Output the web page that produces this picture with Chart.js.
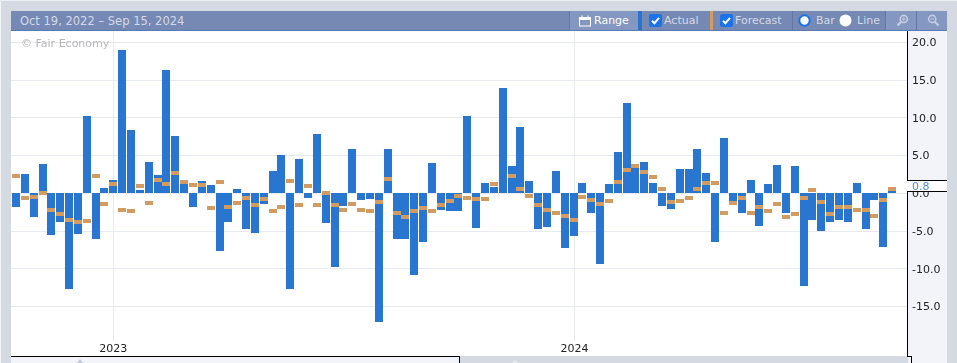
<!DOCTYPE html>
<html>
<head>
<meta charset="utf-8">
<title>Fair Economy chart</title>
<script src="https://cdn.jsdelivr.net/npm/chart.js@4"></script>
<style>
html,body{margin:0;padding:0;width:957px;height:363px;overflow:hidden;background:#d5d9e2;font-family:"DejaVu Sans",sans-serif;}
.abs{position:absolute;}
#edgeL{left:0;top:0;width:1px;height:363px;background:#f3f4f8;}
#edgeT{left:0;top:0;width:957px;height:1px;background:#eceef3;}
#bar{left:11px;top:11px;width:936px;height:19px;background:#7689b4;border-bottom:1px solid #5b78b6;}
#plot{left:11px;top:31px;width:896px;height:325px;background:#fff;}
#panel{left:908px;top:31px;width:39px;height:332px;background:#f3f4f9;}
#foot{left:11px;top:357px;width:448px;height:6px;background:#f3f4f9;}
#blackV{left:907px;top:31px;width:1px;height:325px;background:#000;}
#blackH{left:11px;top:356px;width:449px;height:1px;background:#000;}
#blackV2{left:459px;top:356px;width:1px;height:7px;background:#000;}
#blackH2{left:907px;top:356px;width:5px;height:1px;background:#000;}
#blackV3{left:911px;top:356px;width:1px;height:7px;background:#000;}
canvas#c{position:absolute;left:11px;top:31px;}
.t{position:absolute;top:11px;height:19px;line-height:20px;font-size:11px;white-space:nowrap;color:#d3d9e7;}
.seg{position:absolute;top:11px;height:19px;}
.tri{position:absolute;width:0;height:0;border-left:4px solid transparent;border-right:4px solid transparent;}
svg{position:absolute;}
#wm{left:21px;top:37px;font-size:11px;color:#b8b8b8;line-height:14px;white-space:nowrap;}
</style>
</head>
<body>
<div class="abs" id="edgeL"></div><div class="abs" id="edgeT"></div>
<div class="abs" id="bar"></div>
<div class="abs" id="plot"></div>
<div class="abs" id="panel"></div>
<div class="abs" id="foot"></div>
<div class="abs" id="blackV"></div>
<div class="abs" id="blackH"></div>
<div class="abs" id="blackV2"></div>
<div class="abs" id="blackH2"></div>
<div class="abs" id="blackV3"></div>
<div class="tri" style="left:76px;top:359px;border-bottom:5px solid #c9cdd8;"></div>
<div class="tri" style="left:511px;top:360px;border-bottom:4px solid #e6e8ee;"></div>

<div class="t" id="range" style="left:20px;font-size:11.5px;">Oct 19, 2022 – Sep 15, 2024</div>

<div class="seg" style="left:569px;width:1px;background:#6278a8;"></div>
<div class="seg" style="left:570px;width:68px;background:#8497c0;"></div>
<svg style="left:579px;top:15px" width="13" height="12" viewBox="0 0 13 12"><rect x="0.5" y="2.5" width="11" height="8.5" fill="none" stroke="#fff"/><rect x="0.5" y="2.5" width="11" height="2.5" fill="#fff"/><rect x="2.5" y="0.5" width="1" height="3" fill="#fff"/><rect x="8.5" y="0.5" width="1" height="3" fill="#fff"/></svg>
<div class="t" style="left:594px;color:#fff;">Range</div>
<div class="seg" style="left:638px;width:4px;background:#2874cf;"></div>
<svg style="left:649px;top:14px" width="13" height="13" viewBox="0 0 13 13"><rect width="13" height="13" rx="2" fill="#1a73e8"/><path d="M3 6.8 L5.4 9.2 L10 3.8" fill="none" stroke="#fff" stroke-width="2"/></svg>
<div class="t" style="left:664px;">Actual</div>
<div class="seg" style="left:710px;width:3px;background:#d39b5f;"></div>
<svg style="left:720px;top:14px" width="13" height="13" viewBox="0 0 13 13"><rect width="13" height="13" rx="2" fill="#1a73e8"/><path d="M3 6.8 L5.4 9.2 L10 3.8" fill="none" stroke="#fff" stroke-width="2"/></svg>
<div class="t" style="left:735px;">Forecast</div>
<div class="seg" style="left:792px;width:1px;background:#6278a8;"></div>
<svg style="left:798px;top:14px" width="13" height="13" viewBox="0 0 13 13"><circle cx="6.5" cy="6.5" r="5.2" fill="#fff" stroke="#1a73e8" stroke-width="2"/></svg>
<div class="t" style="left:816px;">Bar</div>
<svg style="left:839px;top:14px" width="13" height="13" viewBox="0 0 13 13"><circle cx="6.5" cy="6.5" r="6" fill="#fff"/></svg>
<div class="t" style="left:857px;">Line</div>
<div class="seg" style="left:885px;width:1px;background:#6278a8;"></div>
<div class="seg" style="left:886px;width:30px;background:#8497c0;"></div>
<div class="seg" style="left:916px;width:1px;background:#6278a8;"></div>
<div class="seg" style="left:917px;width:30px;background:#8497c0;"></div>
<svg style="left:896px;top:14px" width="13" height="13" viewBox="0 0 13 13"><circle cx="7.8" cy="5" r="3.6" fill="none" stroke="#c4cde0" stroke-width="1.6"/><path d="M5.2 7.8 L1.5 11.5" stroke="#c4cde0" stroke-width="2.2"/><path d="M6 5H9.6M7.8 3.2V6.8" stroke="#c4cde0"/></svg>
<svg style="left:927px;top:14px" width="13" height="13" viewBox="0 0 13 13"><circle cx="5.2" cy="5" r="3.6" fill="none" stroke="#c4cde0" stroke-width="1.6"/><path d="M7.8 7.8 L11.5 11.5" stroke="#c4cde0" stroke-width="2.2"/><path d="M3.4 5H7" stroke="#c4cde0"/></svg>

<canvas id="c" width="936" height="325"></canvas>
<div class="abs" id="wm">© Fair Economy</div>

<script>
const actual = [
 -1.8, 2.6,-3.2, 3.9,-5.5,-3.8,-12.7,-5.4,10.3,-6.0,
  0.7, 1.8,19.0, 8.4, 0.5, 4.1, 2.4,16.3, 7.6, 1.3,
 -1.8, 1.6, 1.1,-7.6,-3.8, 0.6,-4.7,-5.2,-1.4, 3.0,
  5.1,-12.6,4.5,-0.6, 7.9,-3.9,-9.7,-1.7, 5.9,-0.9,
 -0.7,-17.1,5.9,-6.1,-6.1,-10.8,-6.4,4.0,-2.2,-2.3,
 -2.3,10.3,-4.6, 1.4, 0.9,13.9, 3.6, 8.8, 1.6,-4.7,
 -4.4, 3.0,-7.2,-5.6, 1.4,-2.6,-9.3, 1.3, 5.5,11.9,
  3.4, 4.2, 1.4,-1.7,-2.1, 3.2, 3.2, 5.9, 2.7,-6.5,
  7.3,-1.0,-2.6, 1.8,-4.3, 1.3, 3.7,-2.6, 3.6,-12.3,
 -3.5,-5.0,-3.8,-3.5,-3.8, 1.4,-4.7,-0.9,-7.1, 0.8
];
const forecast = [
  2.3,-0.6,-0.5, 0.0,-2.2,-2.8,-3.5,-3.8,-3.6, 2.3,
 -1.4, 1.3,-2.2,-2.3, 1.0,-1.3, 1.8, 1.3, 2.7, 1.5,
  1.1, 1.1,-1.9, 1.5,-1.8,-1.3,-0.6,-1.5,-0.7,-2.4,
 -1.8, 1.6,-1.6, 1.0,-1.5, 0.1,-1.6,-2.2,-1.4,-2.2,
 -2.4,-1.1, 1.9,-2.6,-3.1,-2.4,-2.0,-2.4,-1.5,-1.0,
 -0.3,-0.6,-0.7,-0.7, 1.3,null, 2.3, 0.6,-0.3,-1.5,
 -2.2,-2.6,-3.0,-3.5,-0.5,-0.9,-1.4,-1.0, 1.5, 3.1,
  3.6, 2.8, 2.2, 0.6,-1.1,-1.0,-0.6, 0.6, 1.4, 1.4,
 -2.6,-1.3,-0.6,-2.6,-1.8,-2.3,-1.4,-3.1,-2.8,-0.6,
  0.5,-1.1,-2.8,-1.8,-1.8,-2.2,-2.2,-3.0,-0.9, 0.6
];
const yTicks = [20,15,10,5,0,-5,-10,-15];
const yearTickWeeks = [11, 63.1];
const yearTickLabels = ['2023','2024'];
const weekMin = -0.565, weekMax = 100.68;
const yMax = 21.49, yMin = -19.55;
const BLUE = '#2976d0', ORANGE = '#d39b5f', FONT = '"DejaVu Sans", sans-serif';

const dash = document.createElement('canvas');
dash.width = 8; dash.height = 4;
const dctx = dash.getContext('2d');
dctx.fillStyle = ORANGE; dctx.fillRect(0,0,8,4);

// Snap marks to whole pixels after the library has positioned them, so edges stay crisp.
const pixelSnapPlugin = {
  id:'pixelSnap',
  afterDatasetsUpdate(chart){
    chart.data.datasets.forEach((ds,i)=>{
      chart.getDatasetMeta(i).data.forEach(el=>{
        el.x = Math.round(el.x-4)+4;
        if (ds.type==='bar'){
          const up = el.y < el.base;
          el.base = up ? Math.ceil(el.base) : Math.floor(el.base);
          el.y = Math.round(el.y);
        } else {
          el.y = Math.round(el.y-2)+2;
        }
      });
    });
  },
  beforeDraw(chart){
    // nudge the value-axis labels down one pixel so they sit centred on their grid lines
    const s = chart.scales.y;
    s.getLabelItems(chart.chartArea).forEach(it=>{
      if(!it._nudged){ it.options.translation[1] += 1; it._nudged = true; }
    });
  }
};

const lastValuePlugin = {
  id:'lastValue',
  afterDraw(chart){
    const y = chart.scales.y, ctx = chart.ctx;
    const v = actual[actual.length-1];
    const py = Math.round(y.getPixelForValue(v));
    const x0 = chart.chartArea.right, x1 = chart.width;
    ctx.save();
    ctx.fillStyle = '#fff';
    ctx.fillRect(x0, py-6, x1-x0, 10);
    ctx.fillStyle = '#000';
    ctx.fillRect(x0, py-7, x1-x0, 1);
    ctx.fillRect(x0, py+4, x1-x0, 1);
    ctx.font = '11px '+FONT;
    ctx.fillStyle = '#4a8fe8';
    ctx.textBaseline = 'middle';
    ctx.fillText(v.toFixed(1), x0+5, py);
    ctx.restore();
  }
};

new Chart(document.getElementById('c'), {
  data:{
    datasets:[
      {type:'line', label:'Forecast', order:1, showLine:false,
       data:forecast.map((v,i)=>({x:i,y:v})),
       pointStyle:dash, pointRadius:4, pointHoverRadius:4,
       backgroundColor:ORANGE, borderColor:ORANGE},
      {type:'bar', label:'Actual', order:2,
       data:actual.map((v,i)=>({x:i,y:v})),
       backgroundColor:BLUE, borderWidth:0, barThickness:8, inflateAmount:0}
    ]
  },
  options:{
    responsive:false, animation:false, devicePixelRatio:1,
    layout:{padding:0, autoPadding:false},
    plugins:{legend:{display:false},tooltip:{enabled:false}},
    scales:{
      x:{type:'linear', min:weekMin, max:weekMax, offset:false,
        afterBuildTicks(s){ s.ticks = yearTickWeeks.map(v=>({value:v})); },
        afterFit(s){ s.height = 15; s.paddingLeft = 0; s.paddingRight = 0; },
        grid:{color:'#e8eaf2', lineWidth:1, drawTicks:false, offset:false},
        border:{display:false},
        ticks:{autoSkip:false, maxRotation:0, padding:2, color:'#222',
          font:{family:FONT,size:11},
          callback(v){ const i = yearTickWeeks.indexOf(v); return i<0?null:yearTickLabels[i]; }}
      },
      y:{type:'linear', position:'right', min:yMin, max:yMax,
        afterBuildTicks(s){ s.ticks = yTicks.map(v=>({value:v})); },
        afterFit(s){ s.width = 40; s.paddingTop = 0; s.paddingBottom = 0; },
        grid:{color:'#e8eaf2', lineWidth:1, drawTicks:false},
        border:{display:false},
        ticks:{padding:5, color:'#222', font:{family:FONT,size:11},
          callback(v){ return v.toFixed(1); }}
      }
    }
  },
  plugins:[pixelSnapPlugin,lastValuePlugin]
});
</script>
</body>
</html>
